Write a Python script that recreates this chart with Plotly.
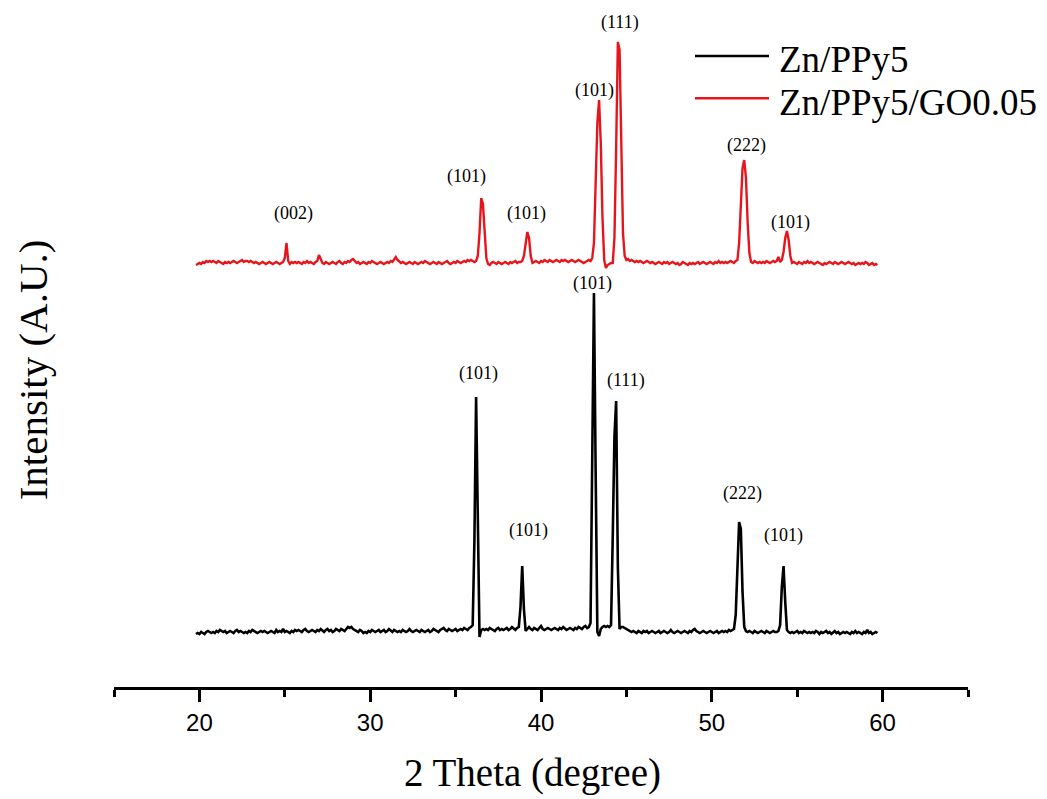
import numpy as np
import plotly.graph_objects as go

# 2-theta sampling of both scans (degrees), 0.1 deg step from 19.8 to 59.7
TWO_THETA = np.round(19.8 + 0.1 * np.arange(400), 1)

# Zn/PPy5 intensity (a.u.), one row per degree starting at 19.8, 20.8, ...
ZN_PPY5 = [
    53, 54, 53, 55, 54, 53, 55, 56, 55, 54,
    55, 54, 56, 55, 57, 56, 55, 56, 54, 55,
    56, 55, 54, 56, 57, 55, 56, 55, 54, 55,
    54, 56, 55, 57, 56, 55, 54, 55, 56, 55,
    56, 55, 54, 55, 56, 55, 54, 57, 55, 56,
    55, 58, 55, 56, 55, 54, 56, 55, 57, 56,
    57, 56, 55, 57, 58, 56, 55, 56, 57, 56,
    55, 57, 56, 58, 56, 55, 57, 58, 56, 57,
    55, 56, 58, 57, 56, 58, 57, 56, 58, 60,
    59, 60, 58, 57, 56, 55, 57, 56, 54, 55,
    54, 56, 55, 57, 56, 55, 56, 57, 55, 56,
    57, 55, 56, 58, 56, 55, 57, 56, 55, 56,
    55, 57, 56, 55, 56, 58, 56, 55, 56, 57,
    56, 55, 57, 56, 55, 56, 57, 55, 56, 58,
    57, 56, 55, 57, 58, 59, 57, 56, 58, 57,
    56, 57, 58, 56, 57, 58, 57, 59, 58, 57,
    59, 60, 62, 145, 290, 140, 50, 57, 58, 57,
    58, 57, 59, 58, 57, 56, 58, 59, 57, 58,
    57, 58, 59, 57, 58, 60, 58, 57, 59, 60,
    80, 121, 78, 56, 58, 60, 58, 57, 59, 58,
    57, 59, 61, 58, 57, 58, 59, 58, 57, 58,
    59, 58, 57, 59, 58, 60, 58, 57, 58, 59,
    58, 57, 59, 58, 60, 59, 58, 60, 61, 59,
    60, 64, 250, 394, 215, 55, 51, 58, 60, 61,
    60, 61, 60, 62, 150, 250, 286, 120, 58, 60,
    60, 59, 58, 57, 56, 55, 56, 55, 54, 56,
    55, 54, 56, 55, 56, 54, 55, 56, 55, 54,
    55, 56, 54, 55, 56, 55, 54, 55, 57, 55,
    54, 55, 56, 55, 54, 55, 56, 55, 54, 56,
    55, 57, 58, 56, 55, 54, 55, 56, 55, 54,
    55, 56, 55, 54, 55, 56, 54, 55, 56, 55,
    56, 55, 57, 56, 57, 58, 72, 120, 165, 158,
    95, 60, 56, 55, 56, 55, 54, 56, 55, 54,
    55, 56, 55, 54, 56, 55, 54, 55, 56, 55,
    55, 56, 62, 100, 121, 85, 57, 55, 54, 55,
    54, 55, 56, 54, 55, 54, 56, 55, 54, 55,
    54, 55, 54, 56, 55, 53, 55, 54, 55, 56,
    54, 55, 53, 55, 56, 54, 55, 53, 54, 55,
    54, 55, 54, 53, 55, 54, 56, 54, 55, 54,
    53, 55, 54, 57, 54, 55, 53, 54, 55, 54,
]

# Zn/PPy5/GO0.05 intensity (a.u.), same sampling
ZN_PPY5_GO = [
    53, 54, 55, 54, 56, 55, 57, 56, 57, 56,
    57, 56, 55, 57, 56, 55, 54, 56, 55, 56,
    55, 56, 57, 56, 55, 56, 57, 58, 56, 57,
    57, 56, 57, 56, 55, 56, 55, 54, 55, 56,
    55, 54, 55, 56, 55, 54, 55, 56, 55, 54,
    55, 56, 60, 75, 57, 54, 56, 55, 56, 55,
    56, 55, 54, 56, 55, 57, 55, 56, 55, 54,
    56, 57, 63, 58, 55, 54, 56, 55, 54, 55,
    56, 55, 54, 56, 57, 55, 54, 56, 55, 57,
    56, 58, 59, 57, 55, 56, 54, 55, 56, 55,
    54, 56, 55, 57, 56, 55, 54, 55, 56, 55,
    54, 55, 56, 55, 57, 56, 58, 61, 58, 56,
    55, 56, 55, 54, 55, 56, 55, 54, 56, 55,
    54, 55, 56, 55, 57, 56, 55, 54, 55, 56,
    55, 54, 56, 55, 54, 55, 56, 57, 55, 54,
    55, 56, 55, 57, 56, 55, 56, 57, 56, 58,
    57, 58, 57, 56, 57, 62, 85, 120, 114, 80,
    60, 54, 53, 55, 56, 55, 54, 56, 55, 54,
    55, 56, 55, 54, 56, 55, 56, 57, 55, 56,
    56, 57, 62, 72, 86, 80, 62, 55, 56, 57,
    56, 55, 57, 56, 58, 57, 56, 58, 57, 56,
    57, 58, 57, 56, 58, 57, 58, 57, 56, 57,
    58, 57, 56, 57, 58, 57, 56, 55, 56, 57,
    58, 57, 60, 75, 130, 195, 218, 175, 100, 58,
    50, 53, 54, 55, 55, 80, 170, 276, 268, 160,
    85, 62, 58, 59, 57, 58, 57, 56, 57, 56,
    57, 56, 55, 56, 57, 56, 55, 56, 55, 54,
    55, 56, 55, 54, 56, 55, 56, 54, 55, 56,
    55, 54, 55, 53, 54, 56, 55, 54, 53, 55,
    54, 55, 54, 55, 56, 54, 55, 56, 55, 54,
    55, 56, 55, 54, 56, 55, 57, 55, 56, 55,
    56, 55, 56, 57, 56, 55, 57, 58, 75, 115,
    150, 158, 140, 95, 65, 56, 55, 57, 56, 55,
    56, 55, 56, 55, 57, 56, 55, 56, 57, 56,
    57, 61, 56, 58, 66, 80, 87, 78, 62, 55,
    56, 55, 54, 56, 55, 54, 56, 55, 57, 55,
    56, 55, 54, 55, 56, 55, 54, 53, 55, 54,
    55, 56, 55, 54, 56, 55, 54, 55, 56, 55,
    54, 55, 56, 55, 54, 55, 53, 54, 55, 54,
    55, 54, 56, 55, 53, 54, 55, 53, 54, 53,
]

SERIES_NAMES = ["Zn/PPy5", "Zn/PPy5/GO0.05"]
X_TICKS = [20, 30, 40, 50, 60]

# Miller-index labels for the reflections of each scan
PEAK_LABELS_PPY5 = ["(101)", "(101)", "(101)", "(111)", "(222)", "(101)"]
PEAK_LABELS_GO = ["(002)", "(101)", "(101)", "(101)", "(111)", "(222)", "(101)"]

# vertical shift applied to the GO scan so the two patterns are stacked
STACK_OFFSET = 369

# where each label sits (2theta, plotted intensity)
LABEL_AT_PPY5 = [(36.34, 314), (39.24, 157), (43.04, 404), (44.95, 307), (51.77, 194), (54.17, 152)]
LABEL_AT_GO = [(25.48, 474), (35.62, 511), (39.18, 474), (43.16, 597), (44.63, 665), (52.06, 542), (54.58, 465)]

SERIF = "Liberation Serif, Times New Roman, serif"
SANS = "Liberation Sans, Arial, sans-serif"
BLACK = "#000000"
RED = "#e8141b"

assert len(ZN_PPY5) == len(TWO_THETA) == len(ZN_PPY5_GO)

fig = go.Figure()
fig.add_trace(go.Scatter(
    x=TWO_THETA, y=ZN_PPY5, mode="lines", name=SERIES_NAMES[0],
    line=dict(color=BLACK, width=2.6), showlegend=False,
))
fig.add_trace(go.Scatter(
    x=TWO_THETA, y=np.array(ZN_PPY5_GO) + STACK_OFFSET, mode="lines", name=SERIES_NAMES[1],
    line=dict(color=RED, width=2.4), showlegend=False,
))

annotations = []
for text, (xv, yv) in zip(PEAK_LABELS_PPY5, LABEL_AT_PPY5):
    annotations.append(dict(x=xv, y=yv, xref="x", yref="y", text=text, showarrow=False,
                            font=dict(family=SERIF, size=18, color=BLACK)))
for text, (xv, yv) in zip(PEAK_LABELS_GO, LABEL_AT_GO):
    annotations.append(dict(x=xv, y=yv, xref="x", yref="y", text=text, showarrow=False,
                            font=dict(family=SERIF, size=18, color=BLACK)))

# axis titles
annotations.append(dict(x=0.4906, y=-0.125, xref="paper", yref="paper", text="2 Theta (degree)",
                        showarrow=False, xanchor="center", yanchor="middle",
                        font=dict(family=SERIF, size=39, color=BLACK)))
annotations.append(dict(x=-0.0945, y=0.4614, xref="paper", yref="paper", text="Intensity (A.U.)",
                        showarrow=False, xanchor="center", yanchor="middle", textangle=-90,
                        font=dict(family=SERIF, size=41, color=BLACK)))

# legend
shapes = []
legend_rows = [(0.9185, 0.9127, BLACK, SERIES_NAMES[0]), (0.857, 0.8515, RED, SERIES_NAMES[1])]
for line_y, text_y, color, name in legend_rows:
    shapes.append(dict(type="line", xref="paper", yref="paper", x0=0.6803, x1=0.767,
                       y0=line_y, y1=line_y, line=dict(color=color, width=2.6)))
    annotations.append(dict(x=0.7763, y=text_y, xref="paper", yref="paper", text=name,
                            showarrow=False, xanchor="left", yanchor="middle",
                            font=dict(family=SERIF, size=37, color=BLACK)))

fig.update_layout(
    width=1047, height=799,
    margin=dict(l=114, r=79, t=0, b=112),
    plot_bgcolor="white", paper_bgcolor="white",
    annotations=annotations, shapes=shapes,
    showlegend=False,
)
fig.update_xaxes(
    range=[15, 65], showgrid=False, zeroline=False,
    showline=True, linecolor=BLACK, linewidth=2.5,
    tickmode="array", tickvals=X_TICKS, ticks="outside", ticklen=12, tickwidth=2.5, tickcolor=BLACK,
    tickfont=dict(family=SANS, size=24, color=BLACK),
    minor=dict(tickmode="linear", tick0=15, dtick=10, ticks="outside", ticklen=7, tickwidth=2.5,
               tickcolor=BLACK, showgrid=False),
)
fig.update_yaxes(range=[0, 687], visible=False, showgrid=False, zeroline=False)

fig.write_html("out.html")
